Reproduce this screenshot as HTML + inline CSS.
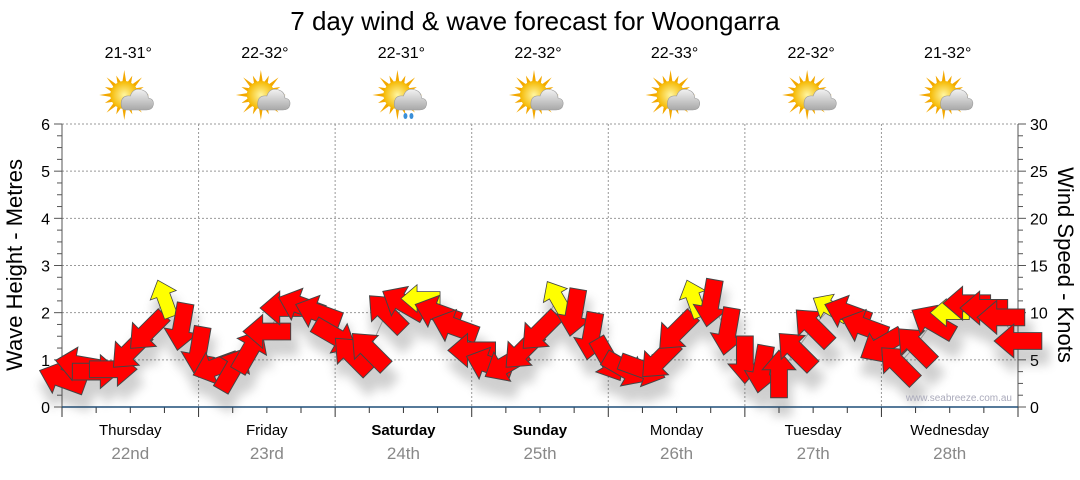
<!DOCTYPE html>
<html><head><meta charset="utf-8"><style>
body{margin:0;background:#fff;width:1080px;height:475px;overflow:hidden;font-family:"Liberation Sans",sans-serif}
svg text{font-family:"Liberation Sans",sans-serif}
</style></head><body>
<svg id="chart" width="1080" height="475" xmlns="http://www.w3.org/2000/svg">
<defs>
<filter id="sh" x="-50%" y="-50%" width="200%" height="200%"><feGaussianBlur stdDeviation="5"/></filter>
<radialGradient id="sun" cx="50%" cy="50%" r="50%"><stop offset="0" stop-color="#fff6a0"/><stop offset="1" stop-color="#f5b800"/></radialGradient>
<linearGradient id="cloud" x1="0" y1="0" x2="0" y2="1"><stop offset="0" stop-color="#f2f2f2"/><stop offset="1" stop-color="#a8a8a8"/></linearGradient>
</defs>
<text x="535" y="30" font-size="26" text-anchor="middle" fill="#000">7 day wind &amp; wave forecast for Woongarra</text>
<g id="grid"></g>
<g id="icons"></g>
<g id="shadows" filter="url(#sh)" opacity="0.25"></g>
<polyline id="waveline" fill="none" stroke="#999" stroke-width="1"/>
<g id="arrows"></g>
<text x="1012" y="401" font-size="10" text-anchor="end" fill="#aab">www.seabreeze.com.au</text>
<text transform="translate(22,265) rotate(-90)" font-size="22" text-anchor="middle">Wave Height - Metres</text>
<text transform="translate(1058,265) rotate(90)" font-size="22" text-anchor="middle">Wind Speed - Knots</text>
</svg>
<script>
const days=["Thursday","Friday","Saturday","Sunday","Monday","Tuesday","Wednesday"];
const dates=["22nd","23rd","24th","25th","26th","27th","28th"];
const temps=["21-31°","22-32°","22-31°","22-32°","22-33°","22-32°","21-32°"];
const rainy=[false,false,true,false,false,false,false];
const leftTicks=[0,1,2,3,4,5,6];
const rightTicks=[0,5,10,15,20,25,30];
// 3-hourly wave heights (m)
const wave=[0.6,0.9,0.75,0.8,1.2,1.6,2.3,1.7,
 1.2,0.85,0.8,1.2,1.6,2.1,2.15,2.0,
 1.5,1.1,1.2,2.0,2.2,2.3,2.0,1.7,
 1.2,0.9,0.9,1.2,1.6,2.3,2.0,1.5,
 1.0,0.8,0.8,1.0,1.6,2.3,2.2,1.6,
 1.0,0.8,0.7,1.2,1.7,2.1,2.0,1.7,
 1.3,0.9,1.3,1.8,2.0,2.2,2.1,1.9,1.4];
// arrow direction (screen degrees, 0 = pointing right)
const windDir=[200,190,0,0,135,135,-110,100,
 100,160,-60,-60,180,180,200,200,
 30,-135,-135,-135,-150,180,200,200,
 180,200,150,135,135,-120,100,100,
 60,30,20,135,135,-110,100,100,
 90,100,-90,-135,-135,-150,200,200,
 150,-135,-135,-150,180,180,180,180,180];
// wind speed (knots)
const windSpd=[12,12,12,12,12,12,8,12,
 12,12,12,12,12,12,12,12,
 12,12,12,12,12,8,12,12,
 12,12,12,12,12,8,12,12,
 12,12,12,12,12,8,12,12,
 12,12,12,12,12,8,12,12,
 12,12,12,12,8,12,12,12,12];

const NS="http://www.w3.org/2000/svg";
const X0=62,X1=1018,Y0=407,Y6=124;
const xS=i=>X0+(X1-X0)*i/56;
const yS=m=>Y0-(Y0-Y6)*m/6;
const dayX=d=>X0+(X1-X0)*d/7;
function mk(tag,attrs,parent){const e=document.createElementNS(NS,tag);for(const k in attrs)e.setAttribute(k,attrs[k]);parent.appendChild(e);return e;}
const grid=document.getElementById('grid');
leftTicks.forEach((t,i)=>{
 const y=yS(t);
 if(t>0){const l=mk('line',{x1:X0,x2:X1,y1:y,y2:y,stroke:'#999','stroke-dasharray':'2,2','stroke-width':1},grid);
 
 }
 const tl=mk('text',{x:X0-12,y:y+6,'font-size':16,'text-anchor':'end'},grid);tl.textContent=t;
 
 
 const tr=mk('text',{x:X1+12,y:y+6,'font-size':16},grid);tr.textContent=rightTicks[i];
 
 
});
for(let k=0;k<=24;k++){const y=yS(k/4);const len=(k%4==0)?8:5;
 mk('line',{x1:X0-len,x2:X0,y1:y,y2:y,stroke:'#555'},grid);
 mk('line',{x1:X1,x2:X1+len,y1:y,y2:y,stroke:'#555'},grid);}
mk('line',{x1:X0,x2:X0,y1:Y6,y2:Y0,stroke:'#555'},grid);
mk('line',{x1:X1,x2:X1,y1:Y6,y2:Y0,stroke:'#555'},grid);
for(let d=1;d<7;d++){const x=dayX(d);
 const l=mk('line',{x1:x,x2:x,y1:Y6,y2:Y0,stroke:'#999','stroke-dasharray':'2,2'},grid);
 
 
}
for(let k=0;k<=28;k++){const x=X0+(X1-X0)*k/28;mk('line',{x1:x,x2:x,y1:Y0,y2:Y0+(k%4==0?10:6),stroke:'#333'},grid);}
mk('line',{x1:X0,x2:X1,y1:Y0,y2:Y0,stroke:'#1f4e79','stroke-width':1.5},grid);
days.forEach((d,i)=>{const cx=(dayX(i)+dayX(i+1))/2;
 const t=mk('text',{x:cx,y:435,'font-size':15,'text-anchor':'middle','font-weight':(i==2||i==3)?'bold':'normal'},grid);t.textContent=d;
 
 
 const t2=mk('text',{x:cx,y:459,'font-size':17,'text-anchor':'middle',fill:'#888'},grid);t2.textContent=dates[i];
 
 
 const t3=mk('text',{x:cx-2,y:58,'font-size':16,'text-anchor':'middle'},grid);t3.textContent=temps[i];
 
 
 const ic=document.getElementById('icons');
 const g=mk('g',{transform:`translate(${cx-6},95)`},ic);
 
 
 for(let r=0;r<16;r++){const a=r*Math.PI/8;mk('polygon',{points:`${Math.cos(a-0.15)*13},${Math.sin(a-0.15)*13} ${Math.cos(a)*(r%2?21:25)},${Math.sin(a)*(r%2?21:25)} ${Math.cos(a+0.15)*13},${Math.sin(a+0.15)*13}`,fill:'#f3a800'},g);}
 mk('circle',{cx:0,cy:0,r:14,fill:'url(#sun)'},g);
 mk('path',{d:'M2,15 Q-4,15 -3,7 Q-2,0 6,1 Q9,-8 18,-5 Q24,-3 24,3 Q30,4 29,10 Q28,15 22,15 Z',fill:'url(#cloud)',stroke:'#999','stroke-width':0.6},g);
 if(rainy[i]){mk('ellipse',{cx:8,cy:21,rx:2,ry:3,fill:'#3a8fd8'},g);mk('ellipse',{cx:14,cy:21,rx:2,ry:3,fill:'#3a8fd8'},g);}
});
document.getElementById('waveline').setAttribute('points',wave.map((w,i)=>xS(i)+','+yS(w)).join(' '));
const arrowPts="-17,-6 3,-6 3,-12 17,0 3,12 3,6 -17,6";
const ag=document.getElementById('arrows'),sg=document.getElementById('shadows');
wave.forEach((w,i)=>{
 const x=xS(i),y=yS(w),s=windSpd[i]<10?1.15:1.4;
 mk('polygon',{points:arrowPts,transform:`translate(${x+3},${y+14}) rotate(${windDir[i]}) scale(${s*1.2})`,fill:'#444'},sg);
 const p=mk('polygon',{points:arrowPts,transform:`translate(${x},${y}) rotate(${windDir[i]}) scale(${s})`,fill:windSpd[i]<10?'#ffff00':'#ff0000',stroke:'#444','stroke-width':0.7},ag);
 
 
});
</script>
</body></html>
